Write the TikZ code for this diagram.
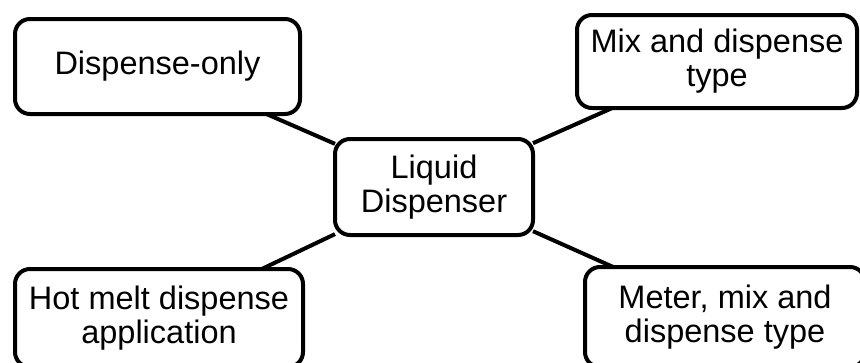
\documentclass[tikz,border=0pt]{standalone}
\usepackage{fontspec}
\setmainfont{Liberation Sans}
\begin{document}
\begin{tikzpicture}[x=1pt,y=-1pt,
  box/.style={draw=black, line width=4pt, rounded corners=15pt, fill=white,
    align=center, inner sep=0pt, outer sep=0pt,
    font=\fontsize{32.5}{34}\selectfont},
  link/.style={draw=black, line width=4pt}]
\useasboundingbox (0,0) rectangle (860,362);
\clip (0,0) rectangle (860,362);
\node[box, minimum width=285pt, minimum height=95pt] (b1) at (157.5,66.5) {Dispense-only};
\node[box, minimum width=280pt, minimum height=93pt] (b2) at (717,61.5) {Mix and dispense\\type};
\node[box, minimum width=198pt, minimum height=96pt] (c) at (434,187) {Liquid\\Dispenser};
\node[box, minimum width=288pt, minimum height=98pt] (b4) at (159,318) {Hot melt dispense\\application};
\node[box, minimum width=280pt, minimum height=100pt] (b5) at (725,317) {Meter, mix and\\dispense type};
\path[link] (b1) -- (c);
\path[link] (b2) -- (c);
\path[link] (b4) -- (c);
\path[link] (b5) -- (c);
\end{tikzpicture}
\end{document}
